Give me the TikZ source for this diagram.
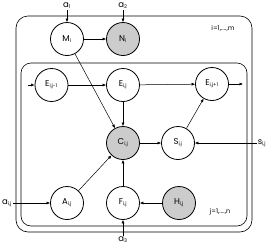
\documentclass[tikz,border=0pt]{standalone}
\usepackage{fontspec}
\setmainfont{Poppins}
\usetikzlibrary{arrows.meta}
\newcommand{\sbs}[1]{\textsubscript{\fontsize{5}{5}\selectfont #1}}
\begin{document}
\begin{tikzpicture}[x=1pt,y=-1pt,
  var/.style={circle,draw,line width=0.8pt,minimum size=33pt,inner sep=0pt,font=\fontsize{8.5}{9}\selectfont},
  obs/.style={var,fill=black!20},
  lab/.style={inner sep=1pt,font=\fontsize{8.5}{9}\selectfont},
  arr/.style={-{Latex[length=3.5pt,width=3pt]},line width=0.5pt},
  plate/.style={draw,line width=0.6pt}]
\useasboundingbox (0,0) rectangle (271,247);
\draw[plate,rounded corners=12pt] (16,16) rectangle (252,232);
\draw[plate,rounded corners=10pt] (21,63) rectangle (247,226);
\node[lab,font=\fontsize{6.5}{7}\selectfont] (im) at (223,28) {i=1,....,m};
\node[lab,font=\fontsize{6.5}{7}\selectfont] (jn) at (220,212) {j=1,....,n};
\node[var] (M) at (67,39) {M\sbs{i}};
\node[obs] (N) at (123,39) {N\sbs{i}};
\node[var] (Em) at (51.5,85) {E\sbs{i,j-1}};
\node[var] (E) at (123,85) {E\sbs{i,j}};
\node[var] (Ep) at (212,84) {E\sbs{i,j+1}};
\node[obs] (C) at (123,143) {C\sbs{i,j}};
\node[var] (S) at (178,143) {S\sbs{i,j}};
\node[var] (A) at (67,203) {A\sbs{i,j}};
\node[var] (F) at (123,203) {F\sbs{i,j}};
\node[obs] (H) at (179,203) {H\sbs{i,j}};
\node[lab] (a1) at (67,6) {a\sbs{1}};
\node[lab] (a2) at (123,6) {a\sbs{2}};
\node[lab] (a3) at (123,240) {a\sbs{3}};
\node[lab] (aij) at (7,203) {a\sbs{i,j}};
\node[lab] (sij) at (262,143) {s\sbs{i,j}};
\coordinate (cin) at (28,85);
\coordinate (cout) at (243,84);
\draw[arr] (a1) -- (M);
\draw[arr] (a2) -- (N);
\draw[arr] (M) -- (N);
\draw[arr] (M) -- (C);
\draw[arr] (cin) -- (Em);
\draw[arr] (Em) -- (E);
\draw[arr] (E) -- (Ep);
\draw[arr] (Ep) -- (cout);
\draw[arr] (E) -- (C);
\draw[arr] (C) -- (S);
\draw[arr] (S) -- (Ep);
\draw[arr] (sij) -- (S);
\draw[arr] (A) -- (C);
\draw[arr] (F) -- (C);
\draw[arr] (H) -- (F);
\draw[arr] (a3) -- (F);
\draw[arr] (aij) -- (A);
\end{tikzpicture}
\end{document}
